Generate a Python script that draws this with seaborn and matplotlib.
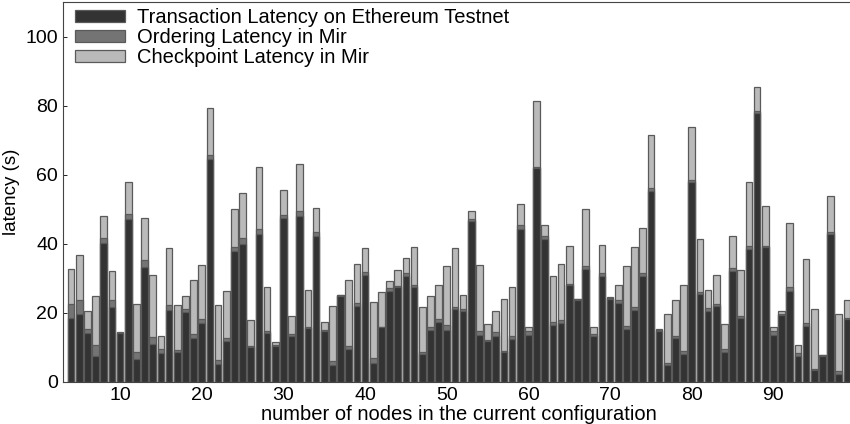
import numpy as np
import pandas as pd
import seaborn as sns
import matplotlib.pyplot as plt

# number of nodes 4..99
nodes = list(range(4, 100))

# top of each segment (cumulative, seconds)
transaction = [18.5, 19.6, 14.1, 7.3, 40.2, 21.6, 14.1, 47.2, 6.7, 33.3,
               10.8, 8.3, 20.9, 8.6, 20.3, 12.6, 17.0, 64.6, 5.2, 11.8,
               37.9, 40.0, 10.0, 42.8, 14.1, 10.2, 47.4, 13.3, 47.9, 15.6,
               42.3, 14.8, 4.9, 24.9, 9.5, 21.8, 31.0, 5.4, 15.7, 26.4,
               27.3, 30.7, 27.4, 8.1, 14.9, 17.4, 15.1, 21.1, 20.4, 46.5,
               13.4, 11.8, 13.1, 8.6, 12.4, 44.3, 13.6, 61.9, 41.4, 16.3,
               17.0, 28.1, 23.8, 32.7, 13.1, 30.5, 24.0, 22.8, 15.3, 20.9,
               30.5, 55.2, 14.8, 4.7, 12.7, 8.1, 57.8, 25.5, 20.4, 21.8,
               8.6, 32.2, 18.5, 38.3, 77.7, 39.0, 13.4, 19.4, 26.2, 7.5,
               16.0, 3.5, 7.5, 42.9, 2.3, 18.2]
ordering = [22.5, 23.8, 15.3, 10.6, 41.6, 23.8, 14.2, 48.6, 8.6, 35.2,
            12.9, 9.6, 22.2, 9.3, 21.0, 13.9, 18.3, 65.8, 6.4, 12.7,
            39.0, 41.6, 10.3, 44.1, 14.6, 10.7, 48.4, 13.9, 49.4, 15.8,
            43.4, 15.1, 5.9, 25.1, 10.2, 22.8, 31.7, 6.9, 15.9, 27.1,
            27.6, 31.5, 27.9, 8.5, 15.7, 18.2, 16.5, 21.6, 21.1, 47.1,
            14.6, 12.0, 14.3, 8.8, 13.1, 45.3, 14.6, 62.1, 42.3, 17.2,
            17.8, 28.3, 23.9, 33.4, 13.8, 31.5, 24.3, 23.8, 16.0, 21.6,
            31.5, 56.1, 15.0, 5.4, 13.3, 8.8, 58.4, 25.9, 21.4, 22.6,
            9.5, 32.9, 18.9, 39.2, 78.4, 39.4, 14.6, 19.5, 27.4, 8.3,
            17.0, 3.7, 7.6, 43.3, 3.0, 18.4]
checkpoint = [32.7, 36.8, 20.6, 24.8, 47.9, 32.0, 14.3, 57.9, 22.6, 47.5,
              31.0, 13.3, 38.6, 22.1, 24.8, 29.4, 33.8, 79.4, 22.1, 26.2,
              49.9, 54.7, 17.8, 62.1, 27.3, 11.4, 55.4, 18.9, 63.2, 26.5,
              50.3, 17.2, 21.8, 25.2, 29.4, 34.1, 38.7, 23.0, 25.9, 29.1,
              32.5, 35.7, 38.9, 21.6, 24.9, 28.1, 33.4, 38.7, 25.2, 49.4,
              33.9, 16.8, 20.4, 24.0, 27.4, 51.6, 15.7, 81.4, 45.5, 30.5,
              34.1, 39.4, 24.0, 49.9, 15.7, 39.7, 24.4, 27.9, 33.4, 38.9,
              44.5, 71.6, 15.4, 19.7, 23.8, 28.1, 73.7, 41.2, 26.7, 30.8,
              16.8, 42.1, 32.5, 57.8, 85.3, 50.8, 15.7, 20.4, 46.0, 10.7,
              35.6, 21.1, 7.7, 53.7, 19.7, 23.6]

labels = ["Transaction Latency on Ethereum Testnet",
          "Ordering Latency in Mir",
          "Checkpoint Latency in Mir"]
colors = ["#333333", "#747474", "#bababa"]

df = pd.DataFrame({"nodes": nodes, "transaction": transaction,
                   "ordering": ordering, "checkpoint": checkpoint})

sns.set_style("ticks", {"text.color": "black", "axes.labelcolor": "black",
                        "xtick.color": "black", "ytick.color": "black"})
plt.rcParams['font.family'] = ['Liberation Sans', 'DejaVu Sans']

fig = plt.figure(figsize=(8.5, 4.24), dpi=100)
ax = fig.add_axes([0.074, 0.0998, 0.932, 0.8955])

# draw tallest (cumulative) first so the lower segments sit on top
for col, color, label in zip(["checkpoint", "ordering", "transaction"],
                             colors[::-1], labels[::-1]):
    sns.barplot(data=df, x="nodes", y=col, native_scale=True, width=0.8,
                color=color, edgecolor="#5a5a5a", linewidth=0.9,
                saturation=1, label=label, ax=ax)

ax.set_xlim(3, 100)
ax.set_ylim(0, 110)
ax.set_xticks([10, 20, 30, 40, 50, 60, 70, 80, 90])
ax.set_yticks([0, 20, 40, 60, 80, 100])
ax.tick_params(direction="in", labelsize=14, length=3, width=0.6,
               colors="black")
ax.set_ylabel("latency (s)", fontsize=13.5, labelpad=4)
ax.set_xlabel("number of nodes in the current configuration", fontsize=14.5,
              labelpad=1)
for s in ax.spines.values():
    s.set_linewidth(0.8)
    s.set_color("#444444")

handles, labs = ax.get_legend_handles_labels()
ax.legend(handles[::-1], labs[::-1], loc="upper left", frameon=False,
          fontsize=14.5, handlelength=2.5, handleheight=0.55,
          labelspacing=0.05, borderaxespad=0.0, handletextpad=0.6,
          bbox_to_anchor=(0.005, 1.005))

fig.savefig("out.png", dpi=100)
